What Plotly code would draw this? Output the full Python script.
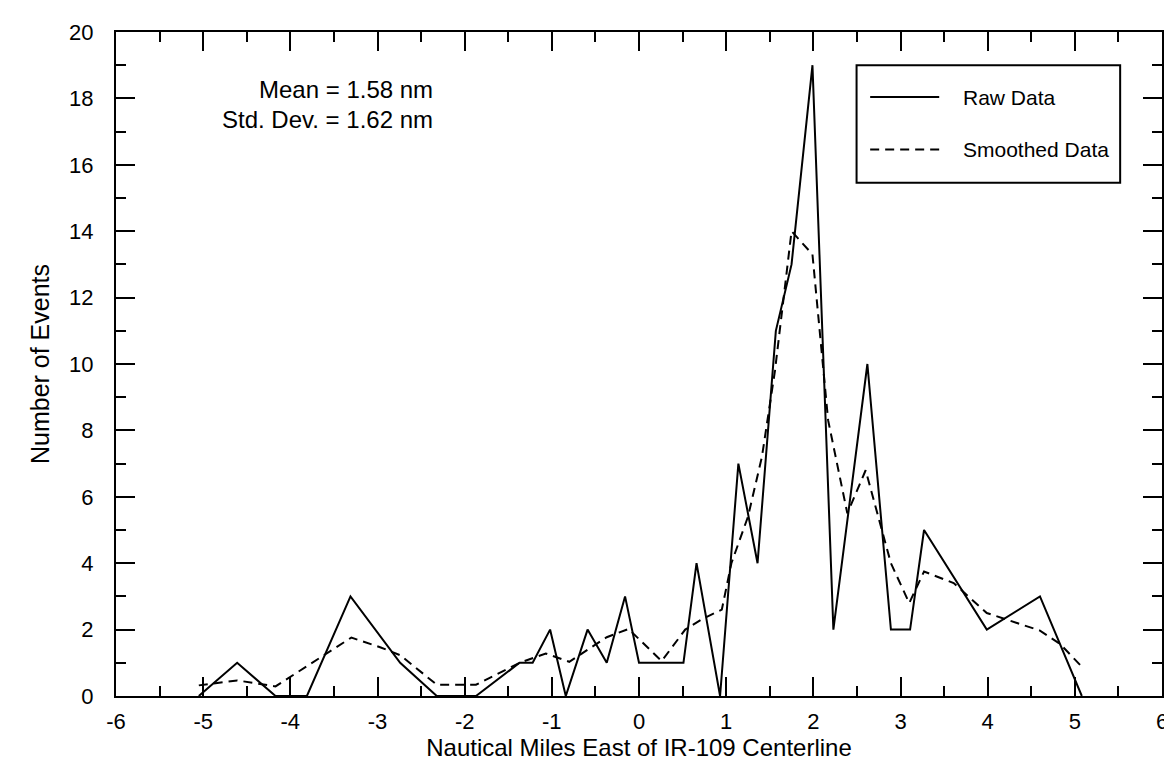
import plotly.graph_objects as go

# Raw event counts
raw_x = [-5.05, -4.61, -4.17, -3.81, -3.31, -2.74, -2.32, -1.87, -1.37, -1.22,
         -1.02, -0.84, -0.59, -0.37, -0.16, 0.00, 0.51, 0.66, 0.93, 1.14,
         1.36, 1.57, 1.75, 1.99, 2.23, 2.62, 2.89, 3.11, 3.27, 3.99, 4.60, 5.08]
raw_y = [0, 1, 0, 0, 3, 1, 0, 0, 1, 1,
         2, 0, 2, 1, 3, 1, 1, 4, 0, 7,
         4, 11, 13, 19, 2, 10, 2, 2, 5, 2, 3, 0]

# Smoothed curve
smooth_x = [-5.05, -4.61, -4.17, -3.30, -2.97, -2.74, -2.32, -1.87, -1.37, -1.07,
            -0.80, -0.37, -0.12, 0.26, 0.53, 0.72, 0.95, 1.06, 1.25, 1.41,
            1.56, 1.75, 1.99, 2.17, 2.39, 2.60, 2.89, 3.10, 3.27, 3.61,
            3.99, 4.33, 4.60, 4.83, 5.08]
smooth_y = [0.32, 0.47, 0.29, 1.76, 1.47, 1.23, 0.34, 0.34, 1.00, 1.28,
            1.03, 1.77, 2.02, 1.05, 2.00, 2.31, 2.60, 4.00, 5.40, 7.20,
            9.80, 14.0, 13.3, 8.30, 5.50, 6.80, 4.00, 2.80, 3.75, 3.40,
            2.50, 2.20, 1.97, 1.57, 0.88]

x_ticks = [-6, -5, -4, -3, -2, -1, 0, 1, 2, 3, 4, 5, 6]
y_ticks = [0, 2, 4, 6, 8, 10, 12, 14, 16, 18, 20]

FONT = "Liberation Sans, Arial, sans-serif"
DASH = "9px,6px"

fig = go.Figure()

fig.add_trace(go.Scatter(
    x=raw_x, y=raw_y, mode="lines", name="Raw Data",
    line=dict(color="black", width=2)
))
fig.add_trace(go.Scatter(
    x=smooth_x, y=smooth_y, mode="lines", name="Smoothed Data",
    line=dict(color="black", width=2, dash=DASH)
))

# legend box drawn by hand so the sample lines are long like the original
fig.add_shape(type="rect", xref="paper", yref="paper",
              x0=0.708, x1=0.960, y0=0.773, y1=0.950,
              line=dict(color="black", width=2), fillcolor="white")
fig.add_shape(type="line", xref="paper", yref="paper",
              x0=0.721, x1=0.787, y0=0.902, y1=0.902,
              line=dict(color="black", width=2))
fig.add_shape(type="line", xref="paper", yref="paper",
              x0=0.721, x1=0.787, y0=0.823, y1=0.823,
              line=dict(color="black", width=2, dash=DASH))
fig.add_annotation(xref="paper", yref="paper", x=0.808, y=0.902,
                   text="Raw Data", showarrow=False, xanchor="left", yanchor="middle",
                   font=dict(size=21, color="black", family=FONT))
fig.add_annotation(xref="paper", yref="paper", x=0.808, y=0.823,
                   text="Smoothed Data", showarrow=False, xanchor="left", yanchor="middle",
                   font=dict(size=21, color="black", family=FONT))

# stats text
fig.add_annotation(xref="paper", yref="paper", x=0.305, y=0.914,
                   text="Mean = 1.58 nm", showarrow=False,
                   xanchor="right", yanchor="middle",
                   font=dict(size=24, color="black", family=FONT))
fig.add_annotation(xref="paper", yref="paper", x=0.305, y=0.868,
                   text="Std. Dev. = 1.62 nm", showarrow=False,
                   xanchor="right", yanchor="middle",
                   font=dict(size=24, color="black", family=FONT))

fig.update_xaxes(
    range=[-6, 6], tickvals=x_ticks, ticktext=[str(v) for v in x_ticks],
    ticks="inside", ticklen=19, tickwidth=2,
    tickcolor="black", showline=True, linecolor="black", linewidth=2,
    mirror="ticks", showgrid=False, zeroline=False,
    minor=dict(dtick=0.5, ticks="inside", ticklen=10, tickwidth=2, tickcolor="black"),
    tickfont=dict(size=22, color="black", family=FONT), ticklabelstandoff=5,
    title=dict(text="Nautical Miles East of IR-109 Centerline", standoff=0,
               font=dict(size=24, color="black", family=FONT))
)
fig.update_yaxes(
    range=[0, 20], tickvals=y_ticks, ticks="inside", ticklen=19, tickwidth=2,
    tickcolor="black", showline=True, linecolor="black", linewidth=2,
    mirror="ticks", showgrid=False, zeroline=False,
    minor=dict(dtick=1, ticks="inside", ticklen=10, tickwidth=2, tickcolor="black"),
    tickfont=dict(size=22, color="black", family=FONT), ticklabelstandoff=16,
    title=dict(text="Number of Events", standoff=12,
               font=dict(size=25, color="black", family=FONT))
)

fig.update_layout(
    width=1172, height=763,
    margin=dict(l=108, r=12, t=15, b=75),
    plot_bgcolor="white", paper_bgcolor="white",
    showlegend=False
)

fig.write_html("out.html")
